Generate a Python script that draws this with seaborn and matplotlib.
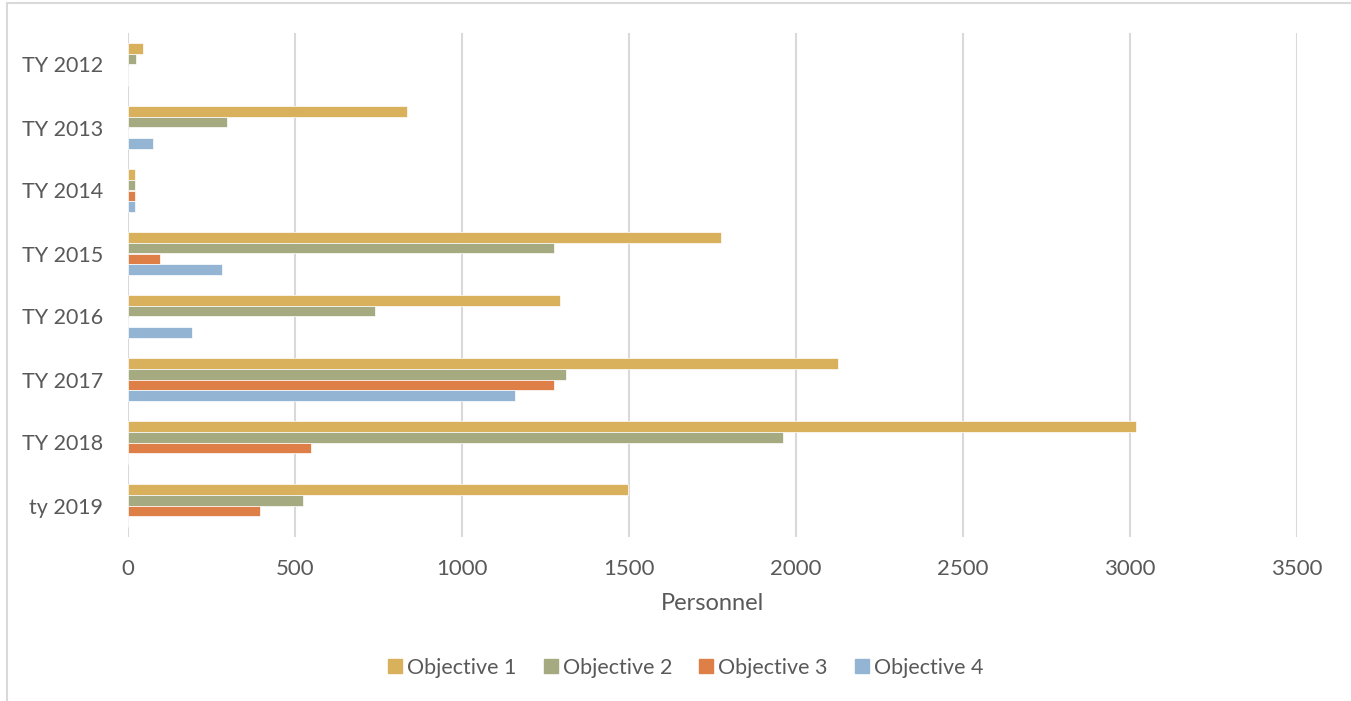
import pandas as pd
import numpy as np
import matplotlib.pyplot as plt
import seaborn as sns
from matplotlib.lines import Line2D

years = ["TY 2012", "TY 2013", "TY 2014", "TY 2015", "TY 2016", "TY 2017", "TY 2018", "ty 2019"]
objectives = ["Objective 1", "Objective 2", "Objective 3", "Objective 4"]

obj1 = [46, 836, 22, 1775, 1292, 2125, 3018, 1498]
obj2 = [23, 296, 22, 1275, 741, 1311, 1961, 525]
obj3 = [0, 0, 22, 97, 0, 1275, 548, 394]
obj4 = [0, 74, 22, 280, 193, 1158, 0, 0]

colors = ["#D9B15D", "#A5AA80", "#DE7F48", "#93B5D3"]

veri = pd.DataFrame({"Year": years, "Objective 1": obj1, "Objective 2": obj2,
                     "Objective 3": obj3, "Objective 4": obj4})
veri = veri.melt(id_vars="Year", var_name="Objective", value_name="Personnel")

sns.set_style("white")
plt.rcParams['font.family'] = ['Lato', 'DejaVu Sans']
gri = "#595959"

fig = plt.figure(figsize=(13.51, 7.01), dpi=100)
ax = fig.add_axes([128 / 1351, 1 - 537 / 701, (1297 - 128) / 1351, (537 - 33) / 701])

sns.barplot(data=veri, y="Year", x="Personnel", hue="Objective", hue_order=objectives,
            order=years, palette=colors, saturation=1, orient="h", width=0.68, ax=ax,
            edgecolor="white", linewidth=0.5, legend=False)

ax.set_xlim(0, 3500)
ax.set_xticks(np.arange(0, 3501, 500))
ax.set_ylim(7.5, -0.5)
ax.grid(axis="x", color="#D9D9D9", linewidth=1.5)
ax.set_axisbelow(True)
for s in ax.spines.values():
    s.set_visible(False)
ax.tick_params(axis="x", length=0, labelsize=16, labelcolor=gri, pad=16)
ax.tick_params(axis="y", length=0, labelsize=15.5, labelcolor=gri, pad=18)
ax.set_ylabel("")
ax.set_xlabel("Personnel", fontsize=17, color=gri, labelpad=10)

handles = [Line2D([], [], marker="s", linestyle="", markersize=10, color=c) for c in colors]
fig.legend(handles, objectives, loc="center", bbox_to_anchor=(684 / 1351, 1 - 668 / 701),
           ncol=4, frameon=False, fontsize=15.5, labelcolor=gri, handletextpad=0.05,
           columnspacing=1.1, handlelength=1.0)

# chart border
fig.add_artist(Line2D([7 / 1351, 1], [1 - 3 / 701, 1 - 3 / 701], color="#D9D9D9", linewidth=1.5))
fig.add_artist(Line2D([7 / 1351, 7 / 1351], [0, 1 - 3 / 701], color="#D9D9D9", linewidth=1.5))

fig.savefig("out.png", dpi=100)
